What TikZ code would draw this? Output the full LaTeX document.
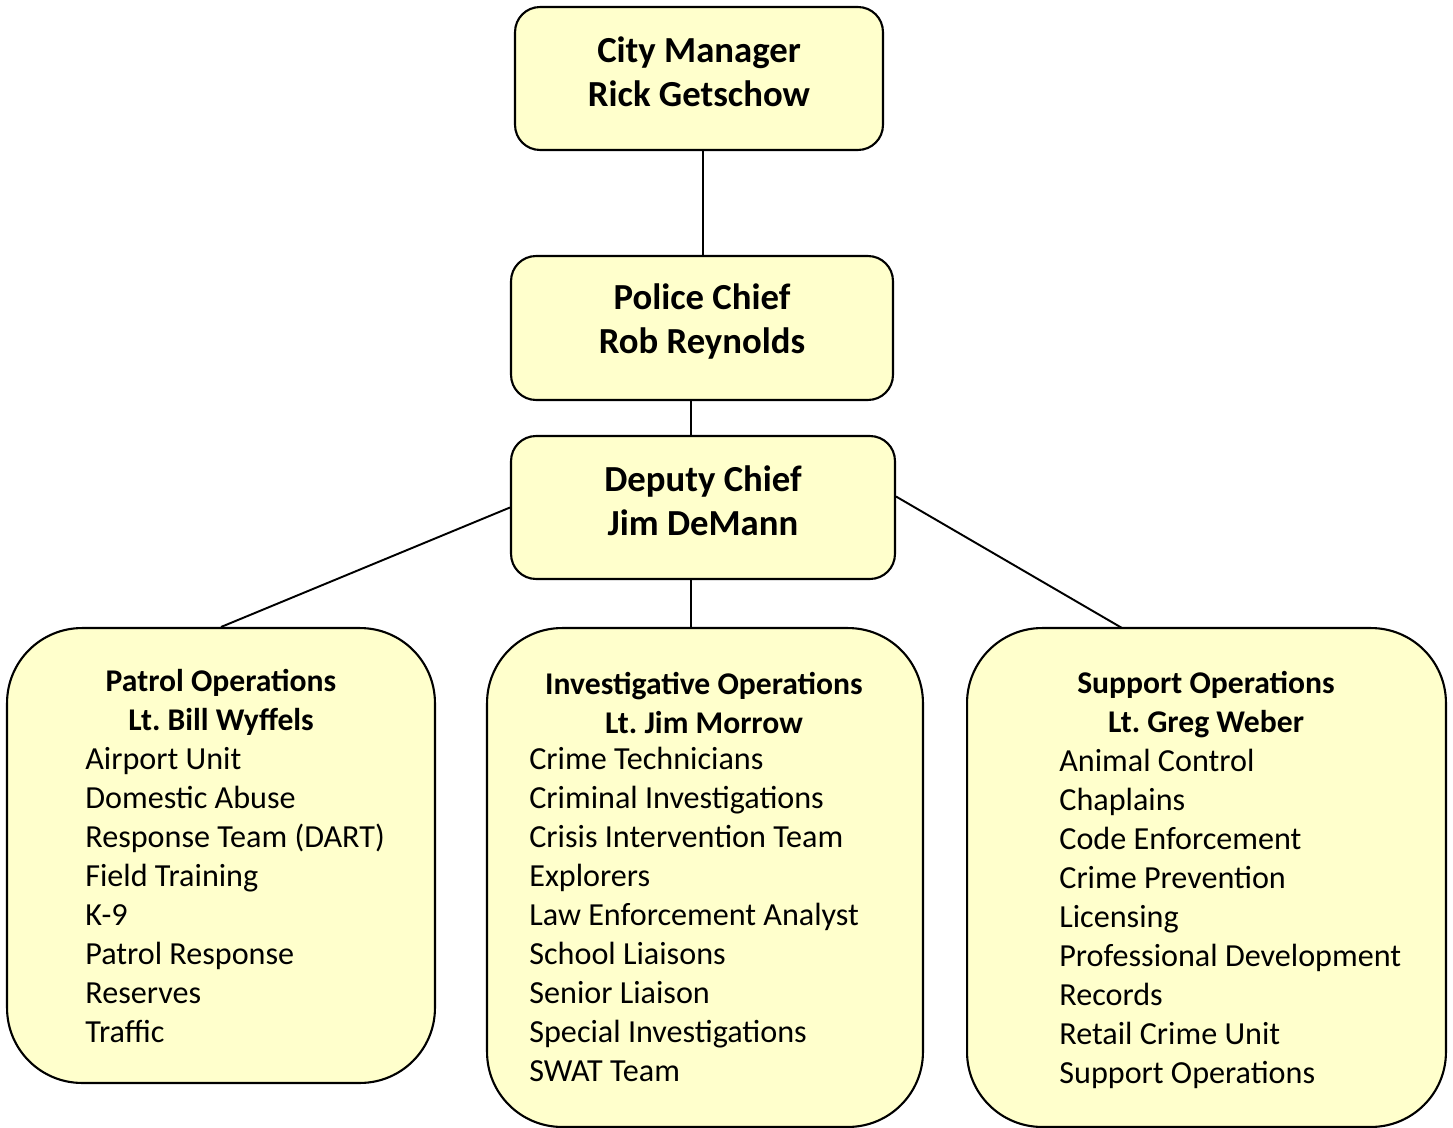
\documentclass[tikz,border=0pt]{standalone}
\usepackage{fontspec}
\setmainfont{Carlito}
\usepackage{tikz}
\usetikzlibrary{positioning}
\frenchspacing
\definecolor{boxfill}{HTML}{FFFFCC}
\tikzset{
  box/.style={draw, line width=1.2pt, fill=boxfill, inner sep=0pt, rounded corners=0.5cm},
  unit/.style={box, rounded corners=1.5cm},
  bigname/.style={align=center, font=\fontsize{20.9}{25}\selectfont\bfseries},
  unitname/.style={align=center, font=\fontsize{18}{22.2}\selectfont\bfseries},
  item/.style={anchor=west, inner sep=0pt, text height=12pt, text depth=4pt, font=\fontsize{18.3}{22}\selectfont},
  link/.style={line width=1.1pt}
}

\begin{document}
\begin{tikzpicture}[x=0.02cm, y=-0.02cm]
\useasboundingbox (0,0) rectangle (1453,1128);

% top of the chain
\node[box, minimum width=7.36cm, minimum height=2.86cm] (cm) at (699,78.5) {};
\node[box, minimum width=7.64cm, minimum height=2.88cm] (chief) at (702,328) {};
\node[box, minimum width=7.68cm, minimum height=2.86cm] (deputy) at (703,507.5) {};
\node[bigname] (cmname) at (699,72) {City Manager\\Rick Getschow};
\node[bigname] (chiefname) at (702,321.5) {Police Chief\\Rob Reynolds};
\node[bigname] (deputyname) at (703,501) {Deputy Chief\\Jim DeMann};

% the three operations
\node[unit, minimum width=8.56cm, minimum height=9.10cm] (patrol) at (221,855.5) {};
\node[unit, minimum width=8.72cm, minimum height=9.98cm] (invest) at (705,877.5) {};
\node[unit, minimum width=9.58cm, minimum height=9.98cm] (support) at (1206.5,877.5) {};

\node[unitname] (patrolname) at (221,702.5) {Patrol Operations\\Lt. Bill Wyffels};
\node[unitname] (investname) at (704,702.5) {Investigative Operations\\Lt. Jim Morrow};
\node[unitname] (supportname) at (1206,704.5) {Support Operations\\Lt. Greg Weber};

\foreach \t [count=\i] in {Airport Unit, Domestic Abuse, Response Team (DART),
  Field Training, K-9, Patrol Response, Reserves, Traffic}
  \node[item] (p\i) at (85,762+39*\i-39) {\t};

\foreach \t [count=\i] in {Crime Technicians, Criminal Investigations,
  Crisis Intervention Team, Explorers, Law Enforcement Analyst, School Liaisons,
  Senior Liaison, Special Investigations, SWAT Team}
  \node[item] (v\i) at (529,762+39*\i-39) {\t};

\foreach \t [count=\i] in {Animal Control, Chaplains, Code Enforcement,
  Crime Prevention, Licensing, Professional Development, Records,
  Retail Crime Unit, Support Operations}
  \node[item] (s\i) at (1059,764+39*\i-39) {\t};

% connectors
\coordinate (stem) at (691,0);
\coordinate (sl) at (1122,628);
\draw[link] (cm.south -| 703,0) -- (chief.north -| 703,0);
\draw[link] (chief.south -| stem) -- (deputy.north -| stem);
\draw[link] (deputy.south -| stem) -- (invest.north -| stem);
\draw[link] (deputy.west) -- (patrol.north);
\draw[link] ([yshift=0.22cm]deputy.east) -- (sl);

\end{tikzpicture}
\end{document}
